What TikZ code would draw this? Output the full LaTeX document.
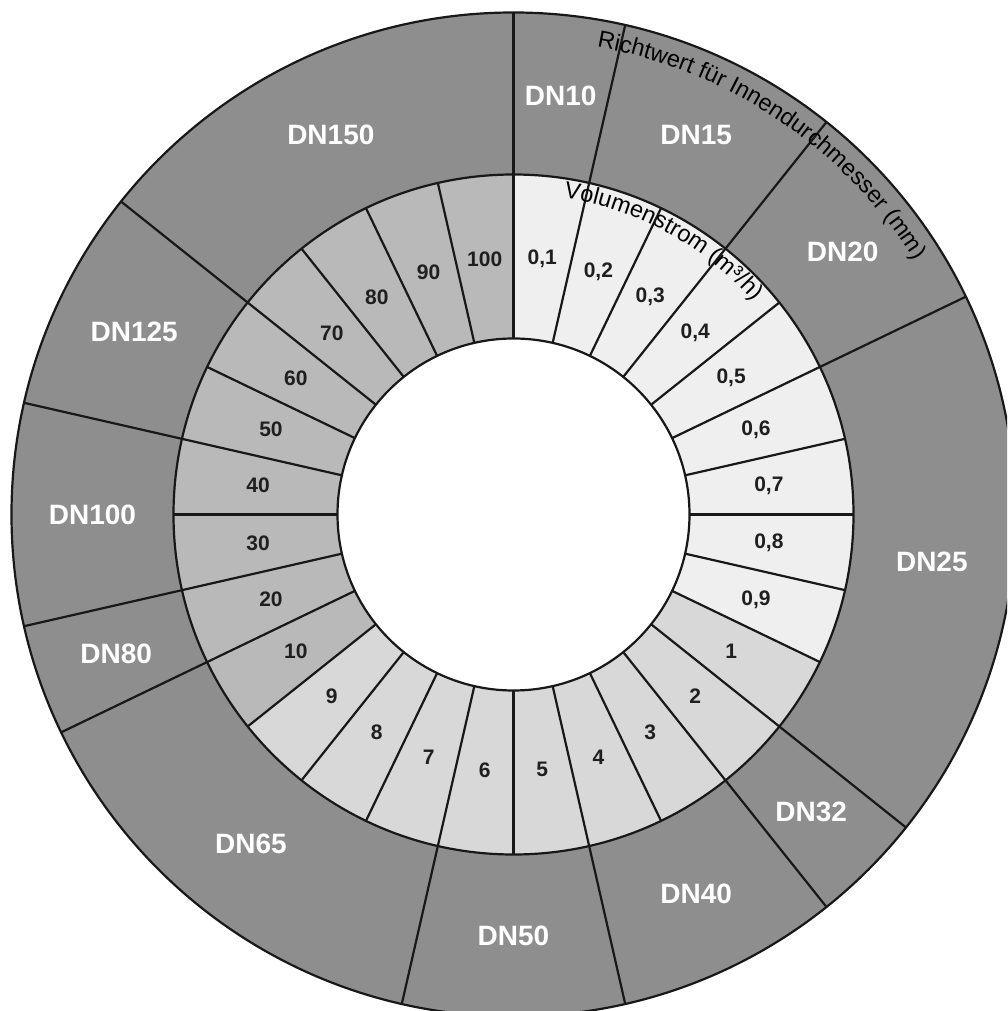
\documentclass[tikz,border=0pt]{standalone}
\usepackage{fontspec}
\setmainfont{Liberation Sans}
\usetikzlibrary{decorations.text}
\definecolor{outerg}{RGB}{142,142,142}
\definecolor{lightg}{RGB}{239,239,239}
\definecolor{midg}{RGB}{216,216,216}
\definecolor{darkg}{RGB}{185,185,185}
\definecolor{linec}{RGB}{24,24,24}
\newcommand\rwfont{\fontsize{23.5}{24}\selectfont}
\newcommand\vsfont{\fontsize{23.5}{24}\selectfont}
\begin{document}
\begin{tikzpicture}[x=1pt,y=1pt,
  ringline/.style={draw=linec, line width=2.2pt},
  innerlab/.style={font=\bfseries\fontsize{21}{22}\selectfont, text=black!88},
  dnlab/.style={font=\bfseries\fontsize{28}{29}\selectfont, text=white},
]
\def\Rin{176}\def\Rmid{340}\def\Rout{502}
\pgfmathsetmacro{\s}{360/28}
\useasboundingbox (-513.5,-496.5) rectangle (493.5,514.5);
\fill[white] (-513.5,-496.5) rectangle (493.5,514.5);
\clip (-513.5,-496.5) rectangle (493.5,514.5);
% outer ring
\fill[outerg] (0,0) circle[radius=\Rout pt];
\fill[white] (0,0) circle[radius=\Rmid pt];
% inner sectors
\foreach \k in {0,...,27}{
  \pgfmathsetmacro{\a}{90-\k*\s}
  \pgfmathsetmacro{\b}{90-(\k+1)*\s}
  \ifnum\k<9 \def\col{lightg}\else\ifnum\k<18 \def\col{midg}\else\def\col{darkg}\fi\fi
  \fill[\col] (\a:\Rin pt) arc[start angle=\a, end angle=\b, radius=\Rin pt]
     -- (\b:\Rmid pt) arc[start angle=\b, end angle=\a, radius=\Rmid pt] -- cycle;
}
% inner radial lines
\foreach \k in {0,...,27}
  \draw[ringline] ({90-\k*\s}:\Rin pt) -- ({90-\k*\s}:\Rmid pt);
% outer radial lines
\foreach \k in {0,1,3,5,10,11,13,15,19,20,22,24}
  \draw[ringline] ({90-\k*\s}:\Rmid pt) -- ({90-\k*\s}:\Rout pt);
% circles
\draw[ringline] (0,0) circle[radius=\Rin pt];
\draw[ringline] (0,0) circle[radius=\Rmid pt];
\draw[ringline] (0,0) circle[radius=\Rout pt];
% inner labels
\foreach \l [count=\k from 0] in {{0,1},{0,2},{0,3},{0,4},{0,5},{0,6},{0,7},{0,8},{0,9},1,2,3,4,5,6,7,8,9,10,20,30,40,50,60,70,80,90,100}
  \node[innerlab] (in\k) at ({90-(\k+0.5)*\s}:257pt) {\l};
% DN labels
\foreach \n/\m in {10/0.5, 15/2, 20/4, 25/7.5, 32/10.5, 40/12, 50/14, 65/17, 80/19.5, 100/21, 125/23, 150/26}
  \node[dnlab] (dn\n) at ({90-\m*\s}:421pt) {DN\n};
% curved titles
\path[decorate, decoration={text along path, text={|\rwfont|Richtwert für Innendurchmesser (mm)}}]
  (79.9:475pt) arc[start angle=79.9, end angle=15, radius=475pt];
\path[decorate, decoration={text along path, text={|\vsfont|Volumenstrom (m³/h)}}]
  (81:321pt) arc[start angle=81, end angle=20, radius=321pt];
\end{tikzpicture}
\end{document}
